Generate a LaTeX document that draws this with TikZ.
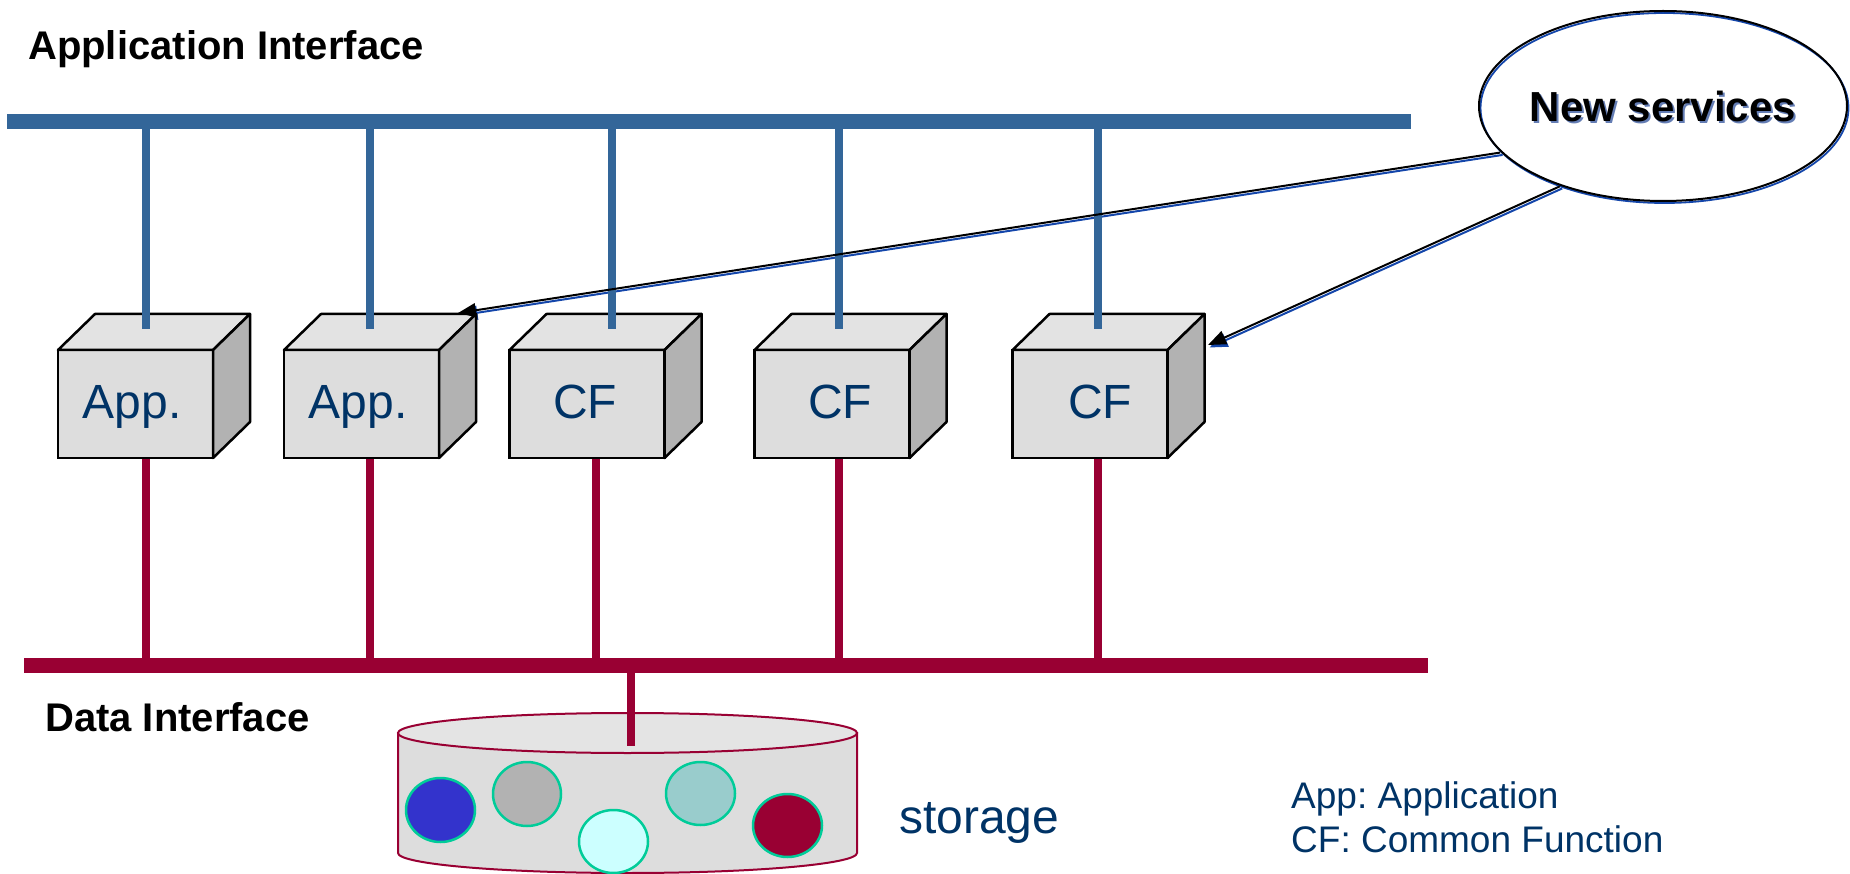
\documentclass[tikz,border=0pt]{standalone}
\usepackage{fontspec}
\setmainfont{Liberation Sans}
\usetikzlibrary{shapes.geometric,arrows.meta,calc}
\pgfdeclarelayer{background}
\pgfsetlayers{background,main}
\frenchspacing
\definecolor{busblue}{RGB}{51,102,153}
\definecolor{busred}{RGB}{153,0,51}
\definecolor{txtblue}{RGB}{0,51,102}
\definecolor{frontgray}{RGB}{221,221,221}
\definecolor{topgray}{RGB}{227,227,227}
\definecolor{sidegray}{RGB}{178,178,178}
\definecolor{shblue}{RGB}{20,70,170}
\definecolor{txtshadow}{RGB}{100,125,180}
\definecolor{discline}{RGB}{0,204,153}
\definecolor{discblue}{RGB}{51,51,204}
\definecolor{discgray}{RGB}{178,178,178}
\definecolor{disccyan}{RGB}{204,255,255}
\definecolor{discteal}{RGB}{153,204,204}
\definecolor{storefill}{RGB}{221,221,221}
\definecolor{storetop}{RGB}{228,228,228}
\begin{document}
\begin{tikzpicture}[x=1pt,y=-1pt,
  frontface/.style={draw=black, line width=2.5pt, fill=frontgray, minimum width=155pt, minimum height=108pt, inner sep=0pt, outer sep=0pt},
  boxline/.style={draw=black, line width=2.5pt, line join=round},
  boxlabel/.style={text=txtblue, font=\fontsize{48}{56}\selectfont, anchor=base, inner sep=0pt},
  busbar/.style={rectangle, inner sep=0pt, outer sep=0pt, minimum width=1404pt, minimum height=15.5pt},
  bluev/.style={draw=busblue, line width=8pt},
  redv/.style={draw=busred, line width=8pt},
  heading/.style={font=\bfseries\fontsize{40}{48}\selectfont, anchor=base west, inner sep=0pt},
  bluetext/.style={text=txtblue, inner sep=0pt, anchor=base west},
  disc/.style={ellipse, draw=discline, line width=2.5pt, inner sep=0pt},
  arrowblk/.style={draw=black, line width=2pt, -{Triangle[length=18pt,width=14pt]}},
  arrowsh/.style={draw=shblue, line width=2pt, -{Triangle[length=18pt,width=14pt]}},
]
\useasboundingbox (0,0) rectangle (1850,874);

% headings
\node[heading] (apptitle) at (28,60) {Application Interface};
\node[heading] (datatitle) at (45,731) {Data Interface};

% buses
\node[busbar, fill=busblue] (abus) at (709,121.7) {};
\node[busbar, fill=busred] (dbus) at (726,665.5) {};

% boxes
\foreach \n/\cx/\lab/\lx/\ux/\rx in {b1/135.5/App./132/146/146, b2/361.5/App./358/370/370, b3/587/CF/585/612/596, b4/832/CF/840/839/839, b5/1090/CF/1100/1098/1098}{
  \coordinate (u\n) at (\ux,329);
  \coordinate (r\n) at (\rx,0);
  \node[frontface] (\n) at (\cx,404) {};
  \draw[redv] (\n.south -| r\n) -- (dbus.center -| r\n);
  \draw[boxline, fill=topgray] (\n.north west) -- ++(37,-36) -- ++(155,0) -- (\n.north east) -- cycle;
  \draw[boxline, fill=sidegray] (\n.north east) -- ++(37,-36) -- ++(0,108) -- (\n.south east) -- cycle;
  \draw[boxline] (\n.north west) rectangle (\n.south east);
  \node[boxlabel] (l\n) at (\lx,418) {\lab};
  \draw[bluev] (abus.center -| u\n) -- (u\n);
}

% storage
\draw[draw=busred, line width=2pt, fill=storefill] (398,733) -- (398,853) arc[start angle=180, end angle=360, x radius=229.5pt, y radius=20pt] -- (857,733) -- cycle;
\node[ellipse, draw=busred, line width=2pt, fill=storetop, minimum width=459pt, minimum height=40pt, inner sep=0pt] (stor) at (627.5,733) {};
\coordinate (sttop) at (631,746);
\draw[redv] (dbus.center -| sttop) -- (sttop);
\node[disc, fill=discblue, minimum width=69pt, minimum height=64pt] (d1) at (440.5,810) {};
\node[disc, fill=discgray, minimum width=68pt, minimum height=64pt] (d2) at (527,794) {};
\node[disc, fill=disccyan, minimum width=69pt, minimum height=63pt] (d3) at (613.5,841.5) {};
\node[disc, fill=discteal, minimum width=69pt, minimum height=63pt] (d4) at (700.5,793.5) {};
\node[disc, fill=busred, minimum width=69pt, minimum height=63pt] (d5) at (787.5,825.5) {};
\node[bluetext, font=\fontsize{48}{56}\selectfont] (storlab) at (899,833) {storage};

% legend
\node[bluetext, font=\fontsize{37}{44}\selectfont] (leg1) at (1291,808) {App: Application};
\node[bluetext, font=\fontsize{37}{44}\selectfont] (leg2) at (1291,852) {CF: Common Function};

% new services ellipse
\node[ellipse, fill=white, minimum width=368pt, minimum height=190pt, inner sep=0pt] (nsbg) at (1663,106) {};
\draw[shblue, line width=1.8pt] (1664.5,108) ellipse[x radius=184pt, y radius=95pt];
\node[ellipse, draw=black, line width=2pt, minimum width=368pt, minimum height=190pt, inner sep=0pt] (ns) at (1663,106) {};
\node[font=\bfseries\fontsize{42}{48}\selectfont, text=txtshadow, anchor=base, inner sep=0pt] (nsshadow) at (1665,124) {New services};
\node[font=\bfseries\fontsize{42}{48}\selectfont, text=black, anchor=base, inner sep=0pt] (nstext) at (1663,122) {New services};

% arrows
\coordinate (a1) at (458,313);
\coordinate (a2) at (1208,345);
\begin{pgfonlayer}{background}
\draw[arrowsh] ([shift={(1.5,2.5)}]ns.196) -- ([shift={(1.5,2.5)}]a1);
\draw[arrowsh] ([shift={(1.5,2.5)}]ns.218) -- ([shift={(1.5,2.5)}]a2);
\end{pgfonlayer}
\draw[arrowblk, shorten <=1pt] (ns.196) -- (a1);
\draw[arrowblk, shorten <=1pt] (ns.218) -- (a2);
\end{tikzpicture}
\end{document}
